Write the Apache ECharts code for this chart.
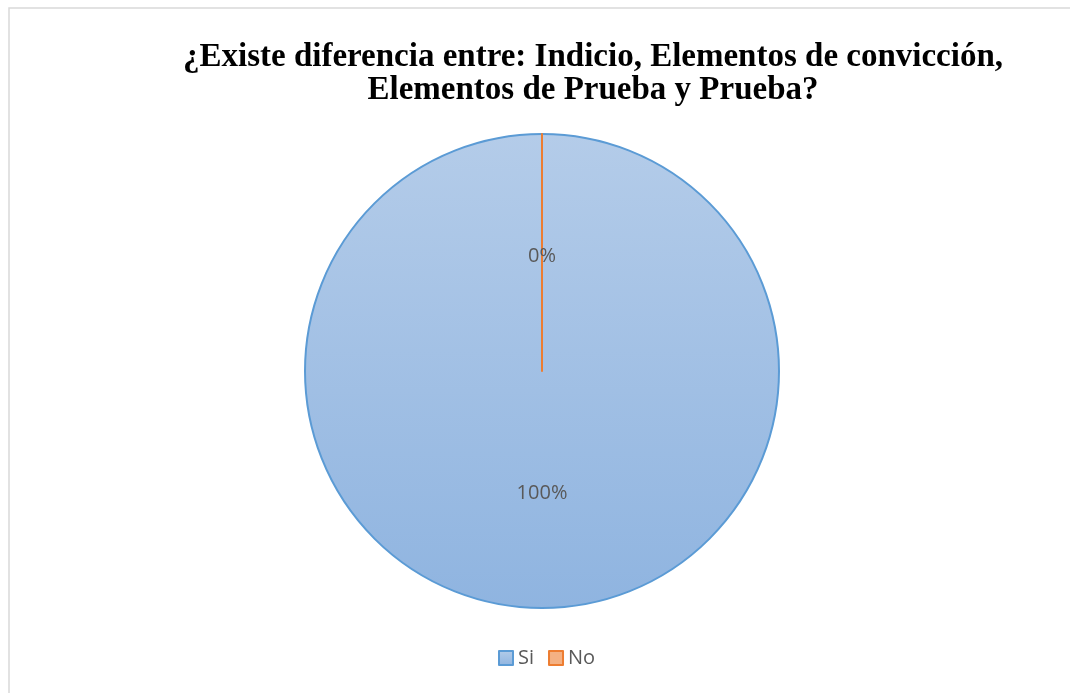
<!DOCTYPE html>
<html>
<head>
<meta charset="utf-8">
<script src="https://cdn.jsdelivr.net/npm/echarts@6/dist/echarts.min.js"></script>
<style>
  html, body { margin: 0; padding: 0; background: #fff; }
  #chart1 { width: 1070px; height: 693px; }
</style>
</head>
<body>
<div id="chart1"></div>
<script>
var titulo = '¿Existe diferencia entre: Indicio, Elementos de convicción,\nElementos de Prueba y Prueba?';
var categorias = ['Si', 'No'];
var valores = [100, 0];

var colores = [
    { fill: new echarts.graphic.LinearGradient(0, 0, 0, 1, [
        { offset: 0, color: '#b4cce9' },
        { offset: 1, color: '#8fb4e0' }
      ]), border: '#5b9bd5', offset: [0, 1] },
    { fill: '#f4b183', border: '#ed7d31', offset: [0, 7] }
];

var datos = categorias.map(function (c, i) {
    return {
        name: c,
        value: valores[i],
        itemStyle: { color: colores[i].fill, borderColor: colores[i].border, borderWidth: 2 },
        label: { offset: colores[i].offset }
    };
});

var pie = echarts.init(document.getElementById('chart1'));
pie.setOption({
    animation: false,
    title: {
        text: titulo,
        left: 588,
        top: 36,
        textAlign: 'center',
        textStyle: {
            fontFamily: 'Liberation Serif',
            fontWeight: 'bold',
            fontSize: 33,
            lineHeight: 33,
            color: '#000'
        }
    },
    legend: {
        bottom: 20,
        left: 493,
        itemWidth: 14,
        itemHeight: 14,
        itemGap: 14,
        icon: 'rect',
        textStyle: { fontFamily: 'Open Sans', fontSize: 20, color: '#595959' },
        data: categorias
    },
    graphic: [{
        type: 'rect',
        shape: { x: 9, y: 8, width: 1100, height: 720 },
        style: { fill: 'none', stroke: '#d9d9d9', lineWidth: 1.5 },
        silent: true
    }],
    series: [{
        type: 'pie',
        center: [542, 371],
        radius: 237,
        startAngle: 90,
        clockwise: true,
        stillShowZeroSum: true,
        avoidLabelOverlap: false,
        label: {
            show: true,
            position: 'inside',
            formatter: '{d}%',
            fontFamily: 'Open Sans',
            fontSize: 20,
            color: '#595959'
        },
        labelLine: { show: false },
        emphasis: { disabled: true },
        data: datos
    }]
});
</script>
</body>
</html>
